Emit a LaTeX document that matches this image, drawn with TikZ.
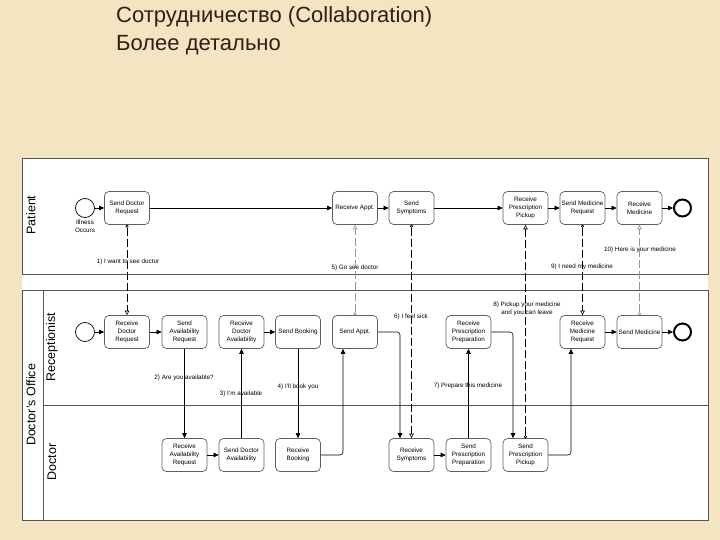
\documentclass[tikz,border=0pt]{standalone}
\usepackage{fontspec}
\setmainfont{Liberation Sans}
\usetikzlibrary{arrows.meta}
\definecolor{bgbeige}{RGB}{243,229,193}
\definecolor{titlecol}{RGB}{45,32,22}
\definecolor{poolline}{RGB}{85,85,85}
\definecolor{boxline}{RGB}{95,95,95}
\definecolor{msggray}{RGB}{150,150,150}
\tikzset{
 task/.style={draw=boxline, line width=0.7pt, rounded corners=4.5pt, minimum width=45pt, minimum height=33pt, inner sep=1pt, align=center, font=\fontsize{6.3}{8.2}\selectfont, fill=white},
 startev/.style={circle, draw=black, line width=0.7pt, minimum size=19pt, inner sep=0pt},
 endev/.style={circle, draw=black, line width=2pt, minimum size=17pt, inner sep=0pt},
 seqflow/.style={draw=black, line width=0.6pt, -{Triangle[length=5pt,width=4.5pt]}},
 msgflow/.style={draw=black, line width=0.6pt, dash pattern=on 8pt off 3pt, {Circle[open,length=3pt]}-{Triangle[open,length=4.5pt,width=4.5pt]}},
 lbl/.style={font=\fontsize{6.3}{7.6}\selectfont, inner sep=1pt, align=center},
 lanelbl/.style={rotate=90, font=\fontsize{12.5}{14}\selectfont, inner sep=0pt},
 pool/.style={draw=poolline, line width=0.8pt},
 titletext/.style={anchor=base west, text=titlecol, font=\fontsize{22}{26}\selectfont, inner sep=0pt}
}
\begin{document}
\begin{tikzpicture}[x=1pt,y=-1pt]
\useasboundingbox (0,0) rectangle (720,540);
\fill[bgbeige] (0,0) rectangle (720,540);
% title
\node[titletext] (t1) at (116,23) {Сотрудничество (Collaboration)};
\node[titletext] (t2) at (116,51) {Более детально};
% diagram area
\fill[white] (22,158) rectangle (708,520);
\draw[pool] (22,158) rectangle (708,274);
\draw[pool] (22,290) rectangle (708,520);
\draw[pool] (43,290) -- (43,520);
\draw[pool] (43,405) -- (708,405);
\node[lanelbl] (lp) at (31,215) {Patient};
\node[lanelbl] (lo) at (31,405) {Doctor's Office};
\node[lanelbl] (lr) at (52,347) {Receptionist};
\node[lanelbl] (ld) at (52,462) {Doctor};
% patient lane
\node[startev] (pstart) at (85,208) {};
\node[lbl] (ill) at (85,226) {Illness\\Occurs};
\node[task] (sdr) at (127,208) {Send Doctor\\Request};
\node[task] (rappt) at (355,208) {Receive Appt.};
\node[task] (ssym) at (411.5,208) {Send\\Symptoms};
\node[task] (rpp) at (525.5,208) {Receive\\Prescription\\Pickup};
\node[task] (smr) at (582.5,208) {Send Medicine\\Request};
\node[task] (rmed) at (639.5,208) {Receive\\Medicine};
\node[endev] (pend) at (682.5,208) {};
% receptionist lane
\node[startev] (rstart) at (85,332) {};
\node[task] (rdr) at (127,332) {Receive\\Doctor\\Request};
\node[task] (sar) at (184.5,332) {Send\\Availability\\Request};
\node[task] (rda) at (241.5,332) {Receive\\Doctor\\Availability};
\node[task] (sbook) at (298,332) {Send Booking};
\node[task] (sappt) at (355,332) {Send Appt.};
\node[task] (rpprep) at (468.5,332) {Receive\\Prescription\\Preparation};
\node[task] (rmr) at (582.5,332) {Receive\\Medicine\\Request};
\node[task] (smed) at (639.5,332) {Send Medicine};
\node[endev] (rend) at (682.5,332) {};
% doctor lane
\node[task] (rar) at (184.5,455) {Receive\\Availability\\Request};
\node[task] (sda) at (241.5,455) {Send Doctor\\Availability};
\node[task] (rbook) at (298,455) {Receive\\Booking};
\node[task] (rsym) at (411.5,455) {Receive\\Symptoms};
\node[task] (spprep) at (468.5,455) {Send\\Prescription\\Preparation};
\node[task] (sppick) at (525.5,455) {Send\\Prescription\\Pickup};
% sequence flows
\draw[seqflow] (pstart) -- (sdr);
\draw[seqflow] (sdr) -- (rappt);
\draw[seqflow] (rappt) -- (ssym);
\draw[seqflow] (ssym) -- (rpp);
\draw[seqflow] (rpp) -- (smr);
\draw[seqflow] (smr) -- (rmed);
\draw[seqflow] (rmed) -- (pend);
\draw[seqflow] (rstart) -- (rdr);
\draw[seqflow] (rdr) -- (sar);
\draw[seqflow] (rda) -- (sbook);
\draw[seqflow] (rmr) -- (smed);
\draw[seqflow] (smed) -- (rend);
\draw[seqflow] (rar) -- (sda);
\draw[seqflow] (rsym) -- (spprep);
\draw[seqflow] (sar.south) -- (rar.north);
\draw[seqflow] (sda.north) -- (rda.south);
\draw[seqflow] (sbook.south) -- (rbook.north);
\draw[seqflow] (spprep.north) -- (rpprep.south);
\draw[seqflow, rounded corners=3pt] (rbook.east) -| ([xshift=-12pt]sappt.south);
\draw[seqflow, rounded corners=3pt] (sappt.east) -| ([xshift=-11.5pt]rsym.north);
\draw[seqflow, rounded corners=3pt] (rpprep.east) -| ([xshift=-12.5pt]sppick.north);
\draw[seqflow, rounded corners=3pt] (sppick.east) -| ([xshift=-11.5pt]rmr.south);
% message flows
\draw[msgflow] (sdr.south) -- (rdr.north);
\draw[msgflow, draw=msggray] (sappt.north) -- (rappt.south);
\draw[msgflow] (ssym.south) -- (rsym.north);
\draw[msgflow] (sppick.north) -- (rpp.south);
\draw[msgflow] (smr.south) -- (rmr.north);
\draw[msgflow, draw=msggray] (smed.north) -- (rmed.south);
% labels
\node[lbl] (m1) at (128,262) {1) I want to see doctor};
\node[lbl] (m2) at (184,378) {2) Are you available?};
\node[lbl] (m3) at (241,394) {3) I'm available};
\node[lbl] (m4) at (298,387) {4) I'll book you};
\node[lbl] (m5) at (355,268) {5) Go see doctor};
\node[lbl] (m6) at (411,317) {6) I feel sick};
\node[lbl] (m7) at (468,386) {7) Prepare this medicine};
\node[lbl] (m8) at (527,309) {8) Pickup your medicine\\and you can leave};
\node[lbl] (m9) at (582,267) {9) I need my medicine};
\node[lbl] (m10) at (640,250) {10) Here is your medicine};
\end{tikzpicture}
\end{document}
